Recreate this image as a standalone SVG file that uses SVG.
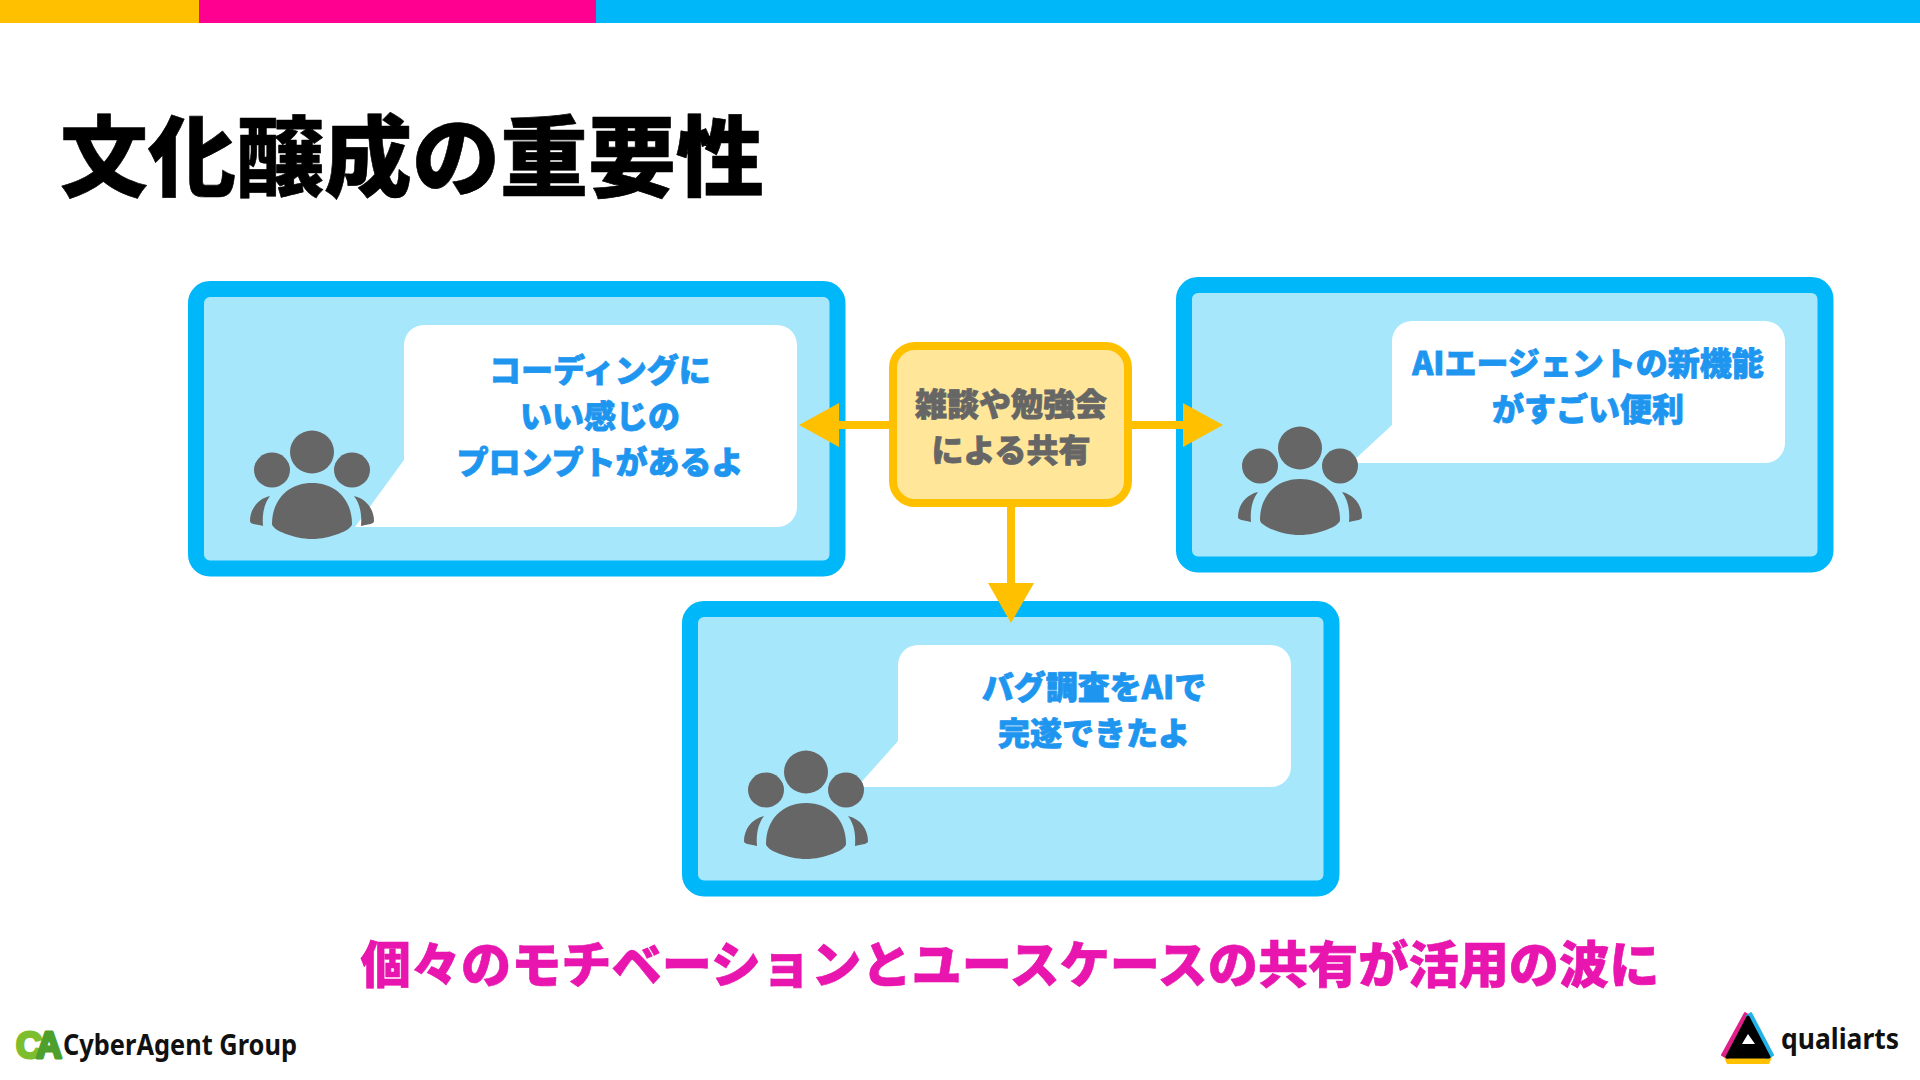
<svg xmlns="http://www.w3.org/2000/svg" width="1920" height="1080" viewBox="0 0 1920 1080">
<style>
text{font-family:"Noto Sans CJK JP","Noto Sans",sans-serif;font-weight:900;text-anchor:middle}
.panel{fill:#A6E7FB;stroke:#00B7F9;stroke-width:16}
.bubble{fill:#fff}
.bt{font-size:32px;fill:#1E96F0;stroke:#1E96F0;stroke-width:.8;stroke-linejoin:round}
.icon{fill:#666}
.conn{stroke:#FFC000;stroke-width:8;fill:none}
.head{fill:#FFC000}
</style>
<defs>
<g id="people">
<ellipse cx="312" cy="452" rx="22" ry="21.5"/>
<ellipse cx="272" cy="470" rx="18" ry="17.5"/>
<ellipse cx="352" cy="470" rx="18" ry="17.5"/>
<path d="M272 524C272 500 288 483 312 483C336 483 352 500 352 524C352 530 330 539 312 539C294 539 272 530 272 524Z"/>
<path d="M270 496C257 499 250 510 250 521C250 524 254 524 263 526C262 514 264 504 270 496Z"/>
<path d="M354 496C367 499 374 510 374 521C374 524 370 524 361 526C362 514 360 504 354 496Z"/>
</g>
<path id="bub" d="M424 325H777A20 20 0 0 1 797 345V507A20 20 0 0 1 777 527H355L404 460V345A20 20 0 0 1 424 325Z"/>
</defs>
<rect width="1920" height="1080" fill="#fff"/>
<g id="top-bar">
<rect x="0" y="0" width="199" height="23" fill="#FFC000"/>
<rect x="199" y="0" width="397" height="23" fill="#FF0090"/>
<rect x="596" y="0" width="1324" height="23" fill="#00B7F9"/>
</g>
<text id="title" x="412" y="189" font-size="88" style="stroke:#000;stroke-width:.6;stroke-linejoin:round" fill="#000">文化醸成の重要性</text>
<g id="panel-left">
<rect class="panel" x="196" y="289" width="641.500" height="279.500" rx="14"/>
<use href="#bub" class="bubble"/>
<use href="#people" class="icon"/>
<text class="bt" x="600" y="382">コーディングに</text>
<text class="bt" x="600" y="428">いい感じの</text>
<text class="bt" x="600" y="474">プロンプトがあるよ</text>
</g>
<g id="panel-right">
<rect class="panel" x="1184" y="285" width="641.500" height="279.500" rx="14"/>
<path class="bubble" d="M1412 321H1765A20 20 0 0 1 1785 341V443A20 20 0 0 1 1765 463H1351L1392 425V341A20 20 0 0 1 1412 321Z"/>
<use href="#people" class="icon" x="988" y="-4"/>
<text class="bt" x="1588" y="375">AIエージェントの新機能</text>
<text class="bt" x="1588" y="421">がすごい便利</text>
</g>
<g id="panel-bottom">
<rect class="panel" x="690" y="609" width="641.500" height="279.500" rx="14"/>
<path class="bubble" d="M918 645H1271A20 20 0 0 1 1291 665V767A20 20 0 0 1 1271 787H857L898 741V665A20 20 0 0 1 918 645Z"/>
<use href="#people" class="icon" x="494" y="320"/>
<text class="bt" x="1094" y="699">バグ調査をAIで</text>
<text class="bt" x="1094" y="745">完遂できたよ</text>
</g>
<g id="connectors">
<path class="conn" d="M893 425H835"/>
<path class="head" d="M839 403V447L799 425Z"/>
<path class="conn" d="M1128 425H1187"/>
<path class="head" d="M1183 403V447L1223 425Z"/>
<path class="conn" d="M1011 503V587"/>
<path class="head" d="M988 583H1034L1011 623Z"/>
</g>
<g id="center">
<rect x="893" y="346" width="235" height="157" rx="22" fill="#FFE699" stroke="#FFC000" stroke-width="8"/>
<text x="1011" y="416" font-size="32" fill="#666" stroke="#666" stroke-width=".8">雑談や勉強会</text>
<text x="1011" y="462" font-size="32" fill="#666" stroke="#666" stroke-width=".8">による共有</text>
</g>
<text id="summary" x="1010" y="983" font-size="50.200" fill="#E815AE" stroke="#E815AE" stroke-width=".6">個々のモチベーションとユースケースの共有が活用の波に</text>
<g id="logo-ca">
<text x="36" y="1058" font-size="36" letter-spacing="-6" stroke-width="3" stroke-linejoin="round" style="font-family:'Liberation Sans',sans-serif;font-weight:700"><tspan fill="#7DBE2E" stroke="#7DBE2E">C</tspan><tspan fill="#4E9F2C" stroke="#4E9F2C">A</tspan></text>
<text x="63" y="1055" font-size="28" fill="#111" textLength="234" lengthAdjust="spacingAndGlyphs" style="text-anchor:start;font-family:'Noto Sans',sans-serif;font-weight:700">CyberAgent Group</text>
</g>
<g id="logo-qualiarts">
<path d="M1724 1057L1772 1057L1769 1064H1727Z" fill="#FFC000"/>
<path d="M1745 1013L1722 1055L1728 1058L1750 1016Z" fill="#E0218A" stroke="#E0218A" stroke-width="2" stroke-linejoin="round"/>
<path d="M1751 1013L1773 1055L1767 1058L1747 1016Z" fill="#22B2E8" stroke="#22B2E8" stroke-width="2" stroke-linejoin="round"/>
<path d="M1748 1017L1769 1057H1727Z" fill="#000" stroke="#000" stroke-width="3" stroke-linejoin="round"/>
<path d="M1748 1034L1755 1044H1742Z" fill="#fff"/>
<text x="1781" y="1049" font-size="29" fill="#111" textLength="118" lengthAdjust="spacingAndGlyphs" style="text-anchor:start;font-family:'Noto Sans',sans-serif;font-weight:700">qualiarts</text>
</g>
</svg>
